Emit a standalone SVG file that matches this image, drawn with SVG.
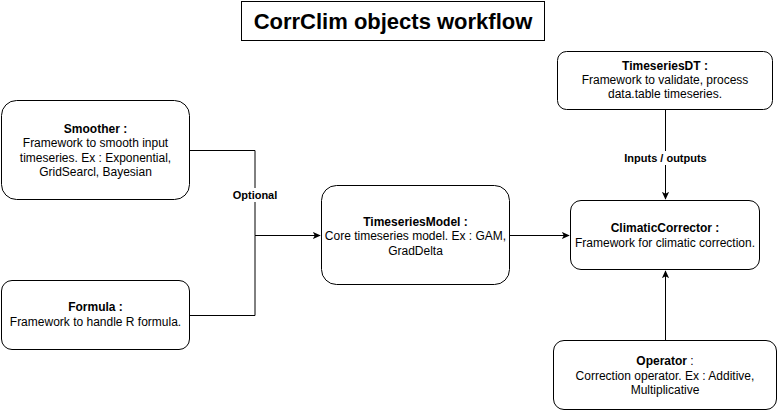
<svg xmlns="http://www.w3.org/2000/svg" width="778" height="411" viewBox="0 0 778 411">
  <style>
    .box { fill: #ffffff; stroke: #000000; stroke-width: 1; }
    .t { font-family: "Liberation Sans", Arial, sans-serif; font-size: 12px; fill: #000000; text-anchor: middle; }
    .b { font-weight: bold; }
    .lbl { font-family: "Liberation Sans", Arial, sans-serif; font-size: 11px; font-weight: bold; fill: #000000; text-anchor: middle; }
    .edge { fill: none; stroke: #000000; stroke-width: 1; }
    .title { font-family: "Liberation Sans", Arial, sans-serif; font-size: 22px; font-weight: bold; fill: #000000; text-anchor: middle; }
  </style>
  <defs>
    <marker id="arrow" viewBox="0 0 10 10" refX="9" refY="5" markerWidth="8" markerHeight="8" markerUnits="userSpaceOnUse" orient="auto">
      <path d="M0,0.5 L10,5 L0,9.5 L2.5,5 Z" fill="#000000" stroke="none"/>
    </marker>
  </defs>
  <rect width="778" height="411" fill="#ffffff"/>

  <g id="title">
    <rect x="241.5" y="1.5" width="303" height="39" fill="#ffffff" stroke="#000000"/>
    <text class="title" x="393" y="29">CorrClim objects workflow</text>
  </g>

  <g id="connectors">
    <path class="edge" d="M190,150.5 H255 V235.5"/>
    <path class="edge" d="M190,315.5 H255 V235.5"/>
    <path class="edge" d="M255,235.5 H320" marker-end="url(#arrow)"/>
    <path class="edge" d="M510,235.5 H569" marker-end="url(#arrow)"/>
    <path class="edge" d="M665.5,110 V199" marker-end="url(#arrow)"/>
    <path class="edge" d="M665.5,340 V271" marker-end="url(#arrow)"/>
    <rect x="231" y="188" width="48" height="14" fill="#ffffff"/>
    <text class="lbl" x="255" y="199">Optional</text>
    <rect x="621" y="151" width="90" height="14" fill="#ffffff"/>
    <text class="lbl" x="665.5" y="162">Inputs / outputs</text>
  </g>

  <g id="smoother">
    <rect class="box" x="1.5" y="100.5" width="188" height="99" rx="15" ry="15"/>
    <text class="t b" x="95.5" y="132.5">Smoother :</text>
    <text class="t" x="95.5" y="147">Framework to smooth input</text>
    <text class="t" x="95.5" y="161.5">timeseries. Ex : Exponential,</text>
    <text class="t" x="95.5" y="176">GridSearcl, Bayesian</text>
  </g>

  <g id="formula">
    <rect class="box" x="1.5" y="280.5" width="188" height="69" rx="10.5" ry="10.5"/>
    <text class="t b" x="95.5" y="311">Formula :</text>
    <text class="t" x="95.5" y="325.5">Framework to handle R formula.</text>
  </g>

  <g id="timeseriesmodel">
    <rect class="box" x="321.5" y="185.5" width="188" height="99" rx="15" ry="15"/>
    <text class="t b" x="415.5" y="226">TimeseriesModel :</text>
    <text class="t" x="415.5" y="240">Core timeseries model. Ex : GAM,</text>
    <text class="t" x="415.5" y="254.5">GradDelta</text>
  </g>

  <g id="timeseriesdt">
    <rect class="box" x="557.5" y="51.5" width="215" height="58" rx="9" ry="9"/>
    <text class="t b" x="665" y="69.5">TimeseriesDT :</text>
    <text class="t" x="665" y="83.5">Framework to validate, process</text>
    <text class="t" x="665" y="98">data.table timeseries.</text>
  </g>

  <g id="climaticcorrector">
    <rect class="box" x="570.5" y="200.5" width="189" height="69" rx="10.5" ry="10.5"/>
    <text class="t b" x="665" y="232">ClimaticCorrector :</text>
    <text class="t" x="665" y="246.5">Framework for climatic correction.</text>
  </g>

  <g id="operator">
    <rect class="box" x="553.5" y="340.5" width="223" height="69" rx="10.5" ry="10.5"/>
    <text class="t" x="665" y="365"><tspan class="b">Operator</tspan> :</text>
    <text class="t" x="665" y="379.5">Correction operator. Ex : Additive,</text>
    <text class="t" x="665" y="394">Multiplicative</text>
  </g>
</svg>
